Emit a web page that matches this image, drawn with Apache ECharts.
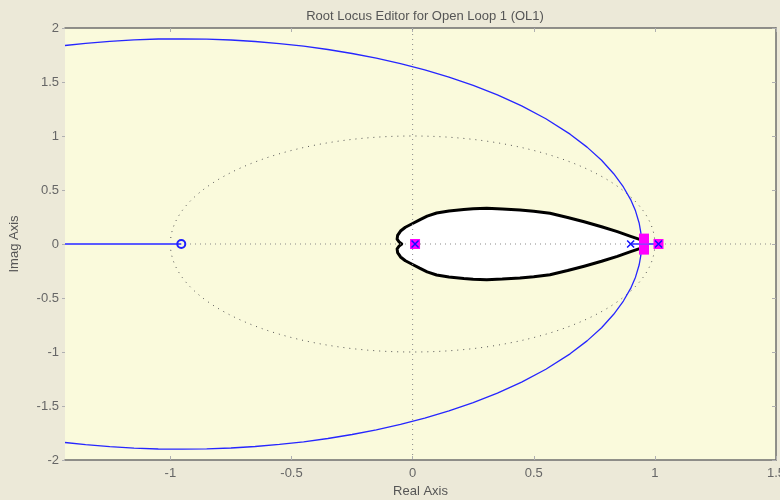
<!DOCTYPE html>
<html>
<head>
<meta charset="utf-8">
<script src="https://cdn.jsdelivr.net/npm/echarts@6/dist/echarts.min.js"></script>
<style>
  html, body { margin: 0; padding: 0; background: #ECE9D8; }
  #chart { width: 780px; height: 500px; }
</style>
</head>
<body>
<div id="chart"></div>
<script>
// Axis ranges and tick marks
const realRange = [-1.435, 1.5];
const imagRange = [-2, 2];
const realTicks = [-1, -0.5, 0, 0.5, 1, 1.5];

// Root locus branches (complex pair, upper and lower half-plane)
const locusUpper = [
  [-1.435, 1.838], [-1.35, 1.858], [-1.25, 1.877], [-1.15, 1.89], [-1.05, 1.898],
  [-0.95, 1.9], [-0.85, 1.897], [-0.75, 1.889], [-0.65, 1.875], [-0.55, 1.856],
  [-0.45, 1.832], [-0.35, 1.801], [-0.25, 1.764], [-0.15, 1.721], [-0.05, 1.671],
  [0.05, 1.612], [0.15, 1.546], [0.25, 1.469], [0.35, 1.381], [0.45, 1.279],
  [0.55, 1.16], [0.65, 1.017], [0.72, 0.897], [0.78, 0.775], [0.83, 0.651],
  [0.87, 0.528], [0.9, 0.411], [0.92, 0.307], [0.935, 0.195], [0.942, 0.106], [0.945, 0]
];
const locusLower = [
  [-1.435, -1.838], [-1.35, -1.858], [-1.25, -1.877], [-1.15, -1.89], [-1.05, -1.898],
  [-0.95, -1.9], [-0.85, -1.897], [-0.75, -1.889], [-0.65, -1.875], [-0.55, -1.856],
  [-0.45, -1.832], [-0.35, -1.801], [-0.25, -1.764], [-0.15, -1.721], [-0.05, -1.671],
  [0.05, -1.612], [0.15, -1.546], [0.25, -1.469], [0.35, -1.381], [0.45, -1.279],
  [0.55, -1.16], [0.65, -1.017], [0.72, -0.897], [0.78, -0.775], [0.83, -0.651],
  [0.87, -0.528], [0.9, -0.411], [0.92, -0.307], [0.935, -0.195], [0.942, -0.106], [0.945, 0]
];
// Real-axis locus segments
const locusRealLeft = [[-1.435, 0], [-0.955, 0]];
const locusRealRight = [[0.9, 0], [1.015, 0]];

// Design constraint region (boundary, closed)
const regionBoundary = [
  [0.955, 0.03], [0.94, 0.04], [0.9, 0.07], [0.845, 0.114], [0.78, 0.16],
  [0.708, 0.206], [0.64, 0.246], [0.567, 0.284], [0.5, 0.303], [0.443, 0.315],
  [0.37, 0.325], [0.306, 0.33], [0.25, 0.327], [0.211, 0.32], [0.15, 0.306],
  [0.099, 0.287], [0.06, 0.258], [0.029, 0.224], [0.0, 0.19], [-0.03, 0.155],
  [-0.05, 0.12], [-0.062, 0.08], [-0.064, 0.045], [-0.056, 0.02], [-0.045, 0.0],
  [-0.056, -0.02], [-0.064, -0.045], [-0.062, -0.08], [-0.05, -0.12], [-0.03, -0.155],
  [0.0, -0.19], [0.029, -0.224], [0.06, -0.258], [0.099, -0.287], [0.15, -0.306],
  [0.211, -0.32], [0.25, -0.327], [0.306, -0.33], [0.37, -0.325], [0.443, -0.315],
  [0.5, -0.303], [0.567, -0.284], [0.64, -0.246], [0.708, -0.206], [0.78, -0.16],
  [0.845, -0.114], [0.9, -0.07], [0.94, -0.04], [0.955, -0.03]
];

// Open-loop zeros and poles, closed-loop poles
const openLoopZeros = [[-0.955, 0]];
const openLoopPoles = [[0.01, 0], [0.9, 0], [1.015, 0]];
const closedLoopPoles = [[0.01, 0], [0.955, 0.05], [0.955, -0.052], [1.015, 0]];

// Unit circle and reference axes
const unitCircle = [[0, 0, 1]];
const realAxisRef = [[-1.435, 0], [1.5, 0]];
const imagAxisRef = [[0, -2], [0, 2]];

const FONT = 'Liberation Sans, Arial, sans-serif';
const chart = echarts.init(document.getElementById('chart'), null, { renderer: 'canvas' });

const blue = '#2626ff';
const frame = '#6e6e6e';

chart.setOption({
  animation: false,
  backgroundColor: '#ECE9D8',
  title: {
    text: 'Root Locus Editor for Open Loop 1 (OL1)',
    left: 420, top: 5, textAlign: 'center',
    textStyle: { color: '#555', fontSize: 13, fontWeight: 'normal', fontFamily: FONT }
  },
  grid: {
    left: 65, right: 4, top: 28, bottom: 40,
    outerBoundsMode: 'none', containLabel: false,
    show: true, backgroundColor: '#FAFADC', borderWidth: 0
  },
  xAxis: [{
    type: 'value', position: 'bottom', min: realRange[0], max: realRange[1],
    name: 'Real Axis', nameLocation: 'middle', nameGap: 23,
    nameTextStyle: { color: '#555', fontSize: 13, fontFamily: FONT },
    axisLine: { show: true, onZero: false, lineStyle: { color: frame, width: 1.5 } },
    axisTick: { show: true, inside: true, length: 4, customValues: realTicks, lineStyle: { color: '#b0b0b0' } },
    axisLabel: { customValues: realTicks, color: '#666', fontSize: 13, fontFamily: FONT, margin: 7,
      formatter: v => String(v) },
    splitLine: { show: false }
  }, {
    type: 'value', position: 'top', min: realRange[0], max: realRange[1],
    axisLine: { show: true, onZero: false, lineStyle: { color: frame, width: 1.5 } },
    axisTick: { show: true, inside: true, length: 4, customValues: realTicks, lineStyle: { color: '#b0b0b0' } },
    axisLabel: { show: false },
    splitLine: { show: false }
  }],
  yAxis: [{
    type: 'value', position: 'left', min: imagRange[0], max: imagRange[1], interval: 0.5,
    name: 'Imag Axis', nameLocation: 'middle', nameGap: 44, nameRotate: 90,
    nameTextStyle: { color: '#555', fontSize: 13, fontFamily: FONT },
    axisLine: { show: false, onZero: false },
    axisTick: { show: true, inside: false, length: 3, lineStyle: { color: '#b0b0b0' } },
    axisLabel: { color: '#666', fontSize: 13, fontFamily: FONT, margin: 6 },
    splitLine: { show: false }
  }, {
    type: 'value', position: 'right', min: imagRange[0], max: imagRange[1], interval: 0.5,
    axisLine: { show: true, onZero: false, lineStyle: { color: frame, width: 1.5 } },
    axisTick: { show: true, inside: true, length: 4, lineStyle: { color: '#b0b0b0' } },
    axisLabel: { show: false },
    splitLine: { show: false }
  }],
  series: [
    {
      // shaded design region
      type: 'custom', xAxisIndex: 0, yAxisIndex: 0, z: 2,
      data: [[0, 0]],
      renderItem: (params, api) => ({
        type: 'polygon',
        shape: { points: regionBoundary.map(p => api.coord(p)) },
        style: { fill: '#ffffff', stroke: '#000', lineWidth: 3, lineJoin: 'round' }
      })
    },
    {
      // unit circle
      type: 'custom', xAxisIndex: 0, yAxisIndex: 0, z: 3,
      data: unitCircle,
      renderItem: (params, api) => {
        const c = api.coord([api.value(0), api.value(1)]);
        const r = api.value(2);
        const ex = api.coord([api.value(0) + r, api.value(1)]);
        const ey = api.coord([api.value(0), api.value(1) + r]);
        return {
          type: 'ellipse',
          shape: { cx: c[0], cy: c[1], rx: Math.abs(ex[0] - c[0]), ry: Math.abs(c[1] - ey[1]) },
          style: { fill: 'none', stroke: '#555', lineWidth: 1, lineDash: [1, 5] }
        };
      }
    },
    {
      type: 'line', data: realAxisRef, symbol: 'none', z: 3, silent: true,
      lineStyle: { color: '#888', width: 1, type: [1, 4] }
    },
    {
      type: 'line', data: imagAxisRef, symbol: 'none', z: 3, silent: true,
      lineStyle: { color: '#888', width: 1, type: [1, 4] }
    },
    { type: 'line', data: locusUpper, symbol: 'none', z: 4, lineStyle: { color: blue, width: 1.3 } },
    { type: 'line', data: locusLower, symbol: 'none', z: 4, lineStyle: { color: blue, width: 1.3 } },
    { type: 'line', data: locusRealLeft, symbol: 'none', z: 4, lineStyle: { color: '#5a5aff', width: 2 } },
    { type: 'line', data: locusRealRight, symbol: 'none', z: 4, lineStyle: { color: '#5a5aff', width: 2 } },
    {
      type: 'scatter', data: closedLoopPoles, z: 5, symbol: 'rect', symbolSize: 10,
      itemStyle: { color: '#ff00ff', opacity: 1 }
    },
    {
      type: 'scatter', data: openLoopPoles, z: 6,
      symbol: 'path://M0,0L10,10M10,0L0,10', symbolSize: 7,
      itemStyle: { color: 'none', borderColor: '#1010ff', borderWidth: 1.5, opacity: 1 }
    },
    {
      type: 'scatter', data: openLoopZeros, z: 6, symbol: 'circle', symbolSize: 8,
      itemStyle: { color: 'none', borderColor: '#2020ff', borderWidth: 2, opacity: 1 }
    }
  ]
});
</script>
</body>
</html>
